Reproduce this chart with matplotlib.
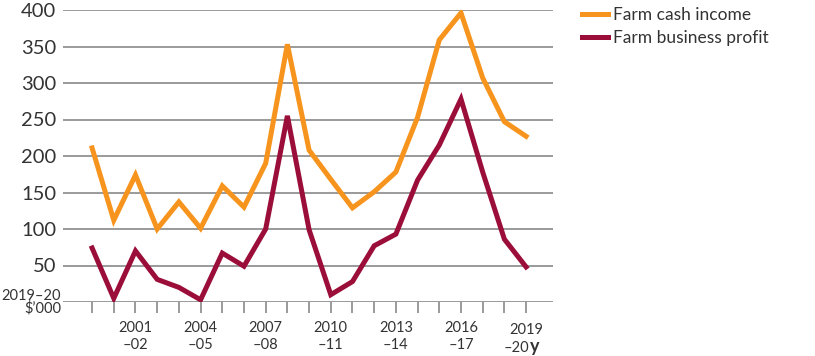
import matplotlib.pyplot as plt

# Data (2019-20 $'000)
years = ['1999-00', '2000-01', '2001-02', '2002-03', '2003-04', '2004-05', '2005-06',
         '2006-07', '2007-08', '2008-09', '2009-10', '2010-11', '2011-12', '2012-13',
         '2013-14', '2014-15', '2015-16', '2016-17', '2017-18', '2018-19', '2019-20']
cash_income = [211, 112, 174, 100, 137, 101, 159, 130, 190, 353, 208,
               168, 129, 151, 178, 253, 359, 396, 307, 247, 227]
business_profit = [74, 5, 70, 31, 20, 3, 67, 49, 100, 255, 99,
                   10, 28, 77, 93, 167, 215, 278, 178, 86, 48]
tick_labels = {2: '2001\n–02', 5: '2004\n–05', 8: '2007\n–08', 11: '2010\n–11',
               14: '2013\n–14', 17: '2016\n–17'}

orange = '#F7941D'
maroon = '#9B0E3A'
grid_c = '#9a9a9a'
text_c = '#333333'

plt.rcParams['font.family'] = ['Lato', 'DejaVu Sans']

fig = plt.figure(figsize=(8.15, 3.56), dpi=100)
ax = fig.add_axes([63 / 815, 54 / 356, 490 / 815, 292 / 356])

x = list(range(len(years)))
ax.plot(x, cash_income, color=orange, lw=3.6, label='Farm cash income',
        solid_joinstyle='miter', zorder=3)
ax.plot(x, business_profit, color=maroon, lw=3.6, label='Farm business profit',
        solid_joinstyle='miter', zorder=3)

ax.set_ylim(0, 400)
ax.set_xlim(-1.34, 21.24)
for v in range(0, 401, 50):
    ax.axhline(v, color=grid_c, lw=1.4, zorder=1)

ax.set_yticks(range(0, 401, 50))
ax.set_yticklabels([''] + [str(v) for v in range(50, 401, 50)])
ax.tick_params(axis='y', length=0, pad=5, labelsize=14.5, colors=text_c)

ax.set_xticks(x)
ax.set_xticklabels([tick_labels.get(i, '') for i in x], linespacing=1.25)
ax.tick_params(axis='x', length=8, width=1.4, color=grid_c, labelsize=10.5,
               labelcolor=text_c, pad=6)

for s in ax.spines.values():
    s.set_visible(False)

# last category label with the bold "y" unit suffix
xt = ax.get_xaxis_transform()
ax.text(20, -0.072, '2019', transform=xt, ha='center', va='top',
        fontsize=10.5, color=text_c)
ax.text(20.15, -0.132, '–20', transform=xt, ha='right', va='top',
        fontsize=10.5, color=text_c)
ax.text(20.2, -0.124, 'y', transform=xt, ha='left', va='top',
        fontsize=13, fontweight='bold', color=text_c)

ax.text(-0.004, 0, '2019–20\n$\u2019000', transform=ax.get_yaxis_transform(),
        ha='right', va='center', fontsize=10.5, color=text_c, linespacing=0.85)

fig.legend(loc='upper left', bbox_to_anchor=(566 / 815, 1.025), frameon=False,
           handlelength=1.5, handletextpad=0.3, fontsize=12.5, labelcolor=text_c,
           labelspacing=0.4)

fig.savefig('out.png', dpi=100)
